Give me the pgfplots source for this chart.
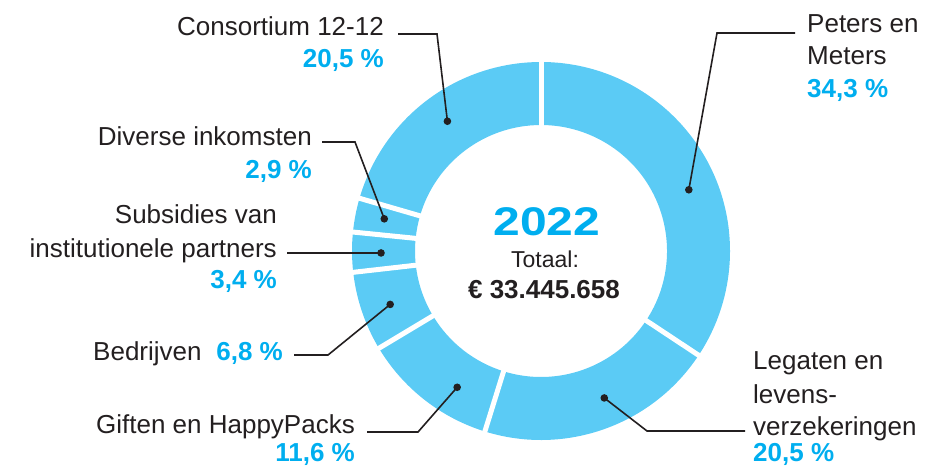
\documentclass[border=0pt]{standalone}
\usepackage{fontspec}
\setmainfont{Liberation Sans}
\usepackage{graphicx}
\usepackage{pgfplots}
\usepackage{pgfplotstable}
\pgfplotsset{compat=1.18}

\definecolor{ring}{RGB}{91,203,245}
\definecolor{pctblue}{RGB}{0,174,239}
\definecolor{ink}{RGB}{35,31,32}

% share of income (%), angle of the callout dot
\pgfplotstableread{
name        pct   dotang
Peters      34.3  22.5
Legaten     20.5  -66.7
Giften      11.6  -121.6
Bedrijven   6.8   -160.5
Subsidies   3.4   -179.3
Diverse     2.9   -191.6
Consortium  20.5  -234.2
}\shares

% cumulative start/end angles, clockwise from the top
\gdef\cumsum{0}
\foreach \i in {0,...,6}{%
  \pgfplotstablegetelem{\i}{pct}\of\shares
  \let\p\pgfplotsretval
  \pgfmathsetmacro{\a}{90-3.6*\cumsum}
  \pgfmathsetmacro{\newcum}{\cumsum+\p}
  \pgfmathsetmacro{\b}{90-3.6*\newcum}
  \expandafter\xdef\csname angA\i\endcsname{\a}
  \expandafter\xdef\csname angB\i\endcsname{\b}
  \pgfplotstablegetelem{\i}{dotang}\of\shares
  \expandafter\xdef\csname angD\i\endcsname{\pgfplotsretval}
  \xdef\cumsum{\newcum}
}

\newcommand{\lbl}{\fontsize{26bp}{32bp}\selectfont}
\newcommand{\pct}{\fontsize{26bp}{32bp}\selectfont\bfseries\color{pctblue}}

\begin{document}
\begin{tikzpicture}[every node/.style={inner sep=0pt, text=ink}]
\begin{axis}[
  scale only axis, width=925bp, height=467bp,
  xmin=0, xmax=925, ymin=0, ymax=467, y dir=reverse,
  hide axis, clip=false,
]
\pgfplotsinvokeforeach{0,...,6}{
  \fill[ring, shift={(axis cs:541,251)}]
    (\csname angA#1\endcsname:189bp)
    arc[start angle=\csname angA#1\endcsname, end angle=\csname angB#1\endcsname, radius=189bp]
    -- (\csname angB#1\endcsname:126bp)
    arc[start angle=\csname angB#1\endcsname, end angle=\csname angA#1\endcsname, radius=126bp]
    -- cycle;
}
\pgfplotsinvokeforeach{0,...,6}{
  \draw[white, line width=5bp, shift={(axis cs:541,251)}]
    (\csname angA#1\endcsname:120bp) -- (\csname angA#1\endcsname:196bp);
  \path[shift={(axis cs:541,251)}] (\csname angD#1\endcsname:160bp) coordinate (dot#1);
  \fill[ink] (dot#1) circle[radius=3.8bp];
}

% leader lines
\draw[ink, line width=1.6bp] (axis cs:795,33) -- (axis cs:717,33) -- (dot0);
\draw[ink, line width=1.6bp] (axis cs:745,431) -- (axis cs:647,431) -- (dot1);
\draw[ink, line width=1.6bp] (axis cs:367,432) -- (axis cs:418,432) -- (dot2);
\draw[ink, line width=1.6bp] (axis cs:294,355) -- (axis cs:328,355) -- (dot3);
\draw[ink, line width=1.6bp] (axis cs:287,253) -- (dot4);
\draw[ink, line width=1.6bp] (axis cs:322,142) -- (axis cs:355,142) -- (dot5);
\draw[ink, line width=1.6bp] (axis cs:398,34) -- (axis cs:437,34) -- (dot6);

% labels
\node[anchor=base west] at (axis cs:807,33) {\lbl Peters en};
\node[anchor=base west] at (axis cs:807,65) {\lbl Meters};
\node[anchor=base west] at (axis cs:807,97) {\pct 34,3 \%};

\node[anchor=base west] at (axis cs:753,369) {\lbl Legaten en};
\node[anchor=base west] at (axis cs:753,403) {\lbl levens-};
\node[anchor=base west] at (axis cs:753,435) {\lbl verzekeringen};
\node[anchor=base west] at (axis cs:753,461) {\pct 20,5 \%};

\node[anchor=base east] at (axis cs:355,433) {\lbl Giften en HappyPacks};
\node[anchor=base east] at (axis cs:355,461) {\pct 11,6 \%};

\node[anchor=base west] at (axis cs:93,360) {\lbl Bedrijven};
\node[anchor=base east] at (axis cs:283,360) {\pct 6,8 \%};

\node[anchor=base east] at (axis cs:277,223) {\lbl Subsidies van};
\node[anchor=base east] at (axis cs:277,257) {\lbl institutionele partners};
\node[anchor=base east] at (axis cs:277,288) {\pct 3,4 \%};

\node[anchor=base east] at (axis cs:312,145) {\lbl Diverse inkomsten};
\node[anchor=base east] at (axis cs:312,178) {\pct 2,9 \%};

\node[anchor=base east] at (axis cs:384,36) {\lbl Consortium 12-12};
\node[anchor=base east] at (axis cs:384,68) {\pct 20,5 \%};

% centre
\node[anchor=base] at (axis cs:547,235)
  {\scalebox{1.2}[1]{\fontsize{40bp}{44bp}\selectfont\bfseries\color{pctblue}2022}};
\node[anchor=base] at (axis cs:545,267) {\fontsize{23bp}{28bp}\selectfont Totaal:};
\node[anchor=base] at (axis cs:544,298) {\fontsize{26bp}{30bp}\selectfont\bfseries € 33.445.658};
\end{axis}
\pgfresetboundingbox
\path (current axis.south west) rectangle (current axis.north east);
\end{tikzpicture}
\end{document}
